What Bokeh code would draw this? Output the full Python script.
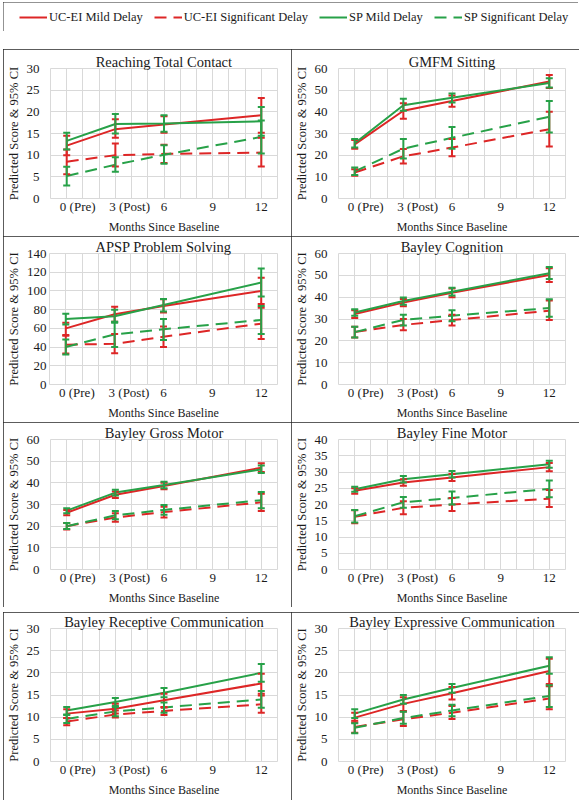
from bokeh.plotting import figure
from bokeh.models import (ColumnDataSource, Whisker, TeeHead, FixedTicker, Range1d,
                          Legend, LegendItem, Spacer)
from bokeh.layouts import column, row
from bokeh.embed import file_html
from bokeh.resources import INLINE

# ---------------- data ----------------
months = [0, 3, 6, 12]
x_tick_labels = ["0 (Pre)", "3 (Post)", "6", "9", "12"]
series_keys = ["uc_mild", "uc_sig", "sp_mild", "sp_sig"]
series_names = ["UC-EI Mild Delay", "UC-EI Significant Delay", "SP Mild Delay", "SP Significant Delay"]

reach_mean = dict(uc_mild=[12.2, 16.0, 17.1, 19.2], uc_sig=[8.5, 10.0, 10.3, 10.6],
                  sp_mild=[13.3, 17.2, 17.3, 17.8], sp_sig=[5.2, 7.8, 10.1, 14.2])
reach_low = dict(uc_mild=[10.0, 14.0, 15.2, 15.2], uc_sig=[5.6, 7.4, 8.2, 7.4],
                 sp_mild=[11.3, 15.0, 15.4, 14.5], sp_sig=[3.0, 6.2, 8.0, 10.4])
reach_high = dict(uc_mild=[14.5, 18.3, 19.0, 23.2], uc_sig=[11.3, 12.7, 12.4, 14.0],
                  sp_mild=[15.2, 19.5, 19.2, 21.1], sp_sig=[7.3, 9.5, 12.3, 18.0])

gmfm_mean = dict(uc_mild=[25.0, 40.5, 45.0, 54.0], uc_sig=[12.0, 19.5, 23.5, 32.0],
                 sp_mild=[25.5, 43.0, 46.5, 53.3], sp_sig=[12.5, 23.0, 28.0, 37.7])
gmfm_low = dict(uc_mild=[23.0, 36.8, 42.3, 51.0], uc_sig=[10.5, 16.2, 19.5, 24.0],
                sp_mild=[23.5, 40.5, 44.3, 51.2], sp_sig=[10.8, 18.5, 23.0, 30.5])
gmfm_high = dict(uc_mild=[27.0, 44.0, 47.5, 57.0], uc_sig=[13.5, 22.8, 27.5, 40.0],
                 sp_mild=[27.5, 46.0, 48.5, 55.5], sp_sig=[14.3, 27.5, 33.0, 45.0])

apsp_mean = dict(uc_mild=[60, 75, 84, 100], uc_sig=[42.5, 43.5, 51, 65],
                 sp_mild=[70, 73, 85, 109], sp_sig=[40, 53.5, 59, 69])
apsp_low = dict(uc_mild=[53, 67, 77, 86], uc_sig=[33, 33.5, 40, 48.5],
                sp_mild=[64, 66, 78, 94], sp_sig=[32, 40, 47.5, 54])
apsp_high = dict(uc_mild=[66, 83, 91, 114], uc_sig=[52, 54, 62, 82],
                 sp_mild=[75.5, 80, 91.5, 124], sp_sig=[48, 67, 70, 84])

cog_mean = dict(uc_mild=[32.3, 37.5, 42.0, 50.2], uc_sig=[24.0, 27.3, 29.5, 33.8],
                sp_mild=[33.0, 38.2, 42.5, 51.0], sp_sig=[24.0, 29.6, 31.5, 35.0])
cog_low = dict(uc_mild=[30.5, 35.8, 40.0, 47.0], uc_sig=[21.5, 24.8, 27.0, 29.5],
               sp_mild=[31.5, 36.5, 40.8, 48.3], sp_sig=[21.5, 27.0, 29.0, 31.0])
cog_high = dict(uc_mild=[34.0, 39.2, 44.0, 53.3], uc_sig=[26.5, 30.0, 32.0, 38.5],
                sp_mild=[34.5, 39.8, 44.3, 53.8], sp_sig=[26.5, 32.0, 34.0, 39.0])

gross_mean = dict(uc_mild=[26.2, 34.5, 38.5, 47.0], uc_sig=[20.0, 24.0, 26.5, 31.0],
                  sp_mild=[27.2, 35.5, 39.0, 46.2], sp_sig=[20.0, 25.0, 27.5, 32.0])
gross_low = dict(uc_mild=[25.0, 33.0, 37.0, 45.0], uc_sig=[18.5, 22.0, 24.0, 27.0],
                 sp_mild=[26.0, 34.2, 37.5, 44.5], sp_sig=[18.7, 23.2, 25.3, 28.3])
gross_high = dict(uc_mild=[27.5, 36.0, 40.0, 49.0], uc_sig=[21.5, 26.0, 29.0, 35.0],
                  sp_mild=[28.3, 36.8, 40.5, 48.0], sp_sig=[21.5, 27.0, 29.8, 35.8])

fine_mean = dict(uc_mild=[24.2, 26.8, 28.3, 31.5], uc_sig=[16.2, 19.0, 20.0, 21.8],
                 sp_mild=[24.7, 27.8, 29.3, 32.4], sp_sig=[16.4, 20.7, 22.0, 24.8])
fine_low = dict(uc_mild=[23.3, 25.8, 27.2, 30.2], uc_sig=[14.2, 17.0, 18.0, 19.2],
                sp_mild=[23.9, 26.8, 28.3, 31.3], sp_sig=[14.5, 19.0, 20.0, 22.2])
fine_high = dict(uc_mild=[25.0, 27.8, 29.4, 32.8], uc_sig=[18.2, 21.0, 22.0, 24.5],
                 sp_mild=[25.5, 28.8, 30.3, 33.5], sp_sig=[18.3, 22.3, 24.0, 27.4])

rec_mean = dict(uc_mild=[10.8, 11.9, 13.8, 17.6], uc_sig=[9.0, 10.6, 11.4, 12.9],
                sp_mild=[11.5, 13.4, 15.5, 20.0], sp_sig=[9.6, 11.3, 12.2, 14.0])
rec_low = dict(uc_mild=[9.8, 10.8, 12.2, 15.3], uc_sig=[8.2, 9.9, 10.5, 11.0],
               sp_mild=[10.6, 12.5, 14.5, 18.0], sp_sig=[8.7, 10.2, 11.0, 12.1])
rec_high = dict(uc_mild=[11.8, 13.0, 15.3, 19.8], uc_sig=[9.8, 11.5, 12.3, 14.9],
                sp_mild=[12.3, 14.3, 16.6, 22.0], sp_sig=[10.5, 12.3, 13.3, 15.9])

exp_mean = dict(uc_mild=[9.9, 13.0, 15.4, 20.4], uc_sig=[7.8, 9.5, 11.0, 14.2],
                sp_mild=[10.8, 14.0, 16.6, 21.6], sp_sig=[7.6, 9.8, 11.5, 14.8])
exp_low = dict(uc_mild=[8.8, 11.4, 14.0, 17.5], uc_sig=[6.5, 8.0, 9.6, 11.8],
               sp_mild=[9.8, 13.0, 15.5, 19.8], sp_sig=[6.4, 8.5, 10.2, 12.3])
exp_high = dict(uc_mild=[11.0, 14.5, 16.8, 23.2], uc_sig=[9.2, 11.3, 12.5, 17.0],
                sp_mild=[11.8, 15.0, 17.5, 23.5], sp_sig=[8.6, 11.2, 12.8, 17.2])

# ---------------- style ----------------
RED = "#dd2626"
GREEN = "#27a148"
COLORS = dict(uc_mild=RED, uc_sig=RED, sp_mild=GREEN, sp_sig=GREEN)
DASHES = dict(uc_mild="solid", uc_sig="12 7", sp_mild="solid", sp_sig="12 7")
FONT = "'Liberation Serif', serif"
TXT = "#1a1a1a"
BOX = {"outline": "1px solid #262626", "outline-offset": "-1px"}
x_tick_pos = [0.68, 3.88, 6, 9, 12]


def make_panel(title, ymax, ystep, mean, low, high, height, top, bottom, lab_standoff=11, t_off=-6):
    p = figure(width=288, height=height, x_range=Range1d(-1, 13), y_range=Range1d(0, ymax),
               output_backend="svg", toolbar_location=None,
               min_border_left=43, min_border_right=14, min_border_top=top, min_border_bottom=bottom)
    p.styles = BOX
    p.title.text = title
    p.title.align = "center"
    p.title.offset = t_off
    p.title.text_font = FONT
    p.title.text_font_size = "14.5px"
    p.title.text_font_style = "normal"
    p.title.text_color = TXT
    p.title.standoff = -3
    p.outline_line_color = "#d9d9d9"
    yt = list(range(0, ymax + 1, ystep))
    p.yaxis.ticker = FixedTicker(ticks=yt)
    p.ygrid.ticker = FixedTicker(ticks=yt)
    p.xaxis.ticker = FixedTicker(ticks=x_tick_pos)
    p.xaxis.major_label_overrides = {pos: lab for pos, lab in zip(x_tick_pos, x_tick_labels)}
    p.xgrid.ticker = FixedTicker(ticks=list(range(-1, 14)))
    for g in (p.xgrid, p.ygrid):
        g.grid_line_color = "#d9d9d9"
        g.grid_line_width = 1
    for ax in (p.xaxis, p.yaxis):
        ax.axis_line_color = None
        ax.major_tick_line_color = None
        ax.minor_tick_line_color = None
        ax.major_tick_out = 0
        ax.major_tick_in = 0
        ax.major_label_text_font = FONT
        ax.major_label_text_font_size = "13px"
        ax.major_label_text_font_style = "normal"
        ax.major_label_text_color = TXT
        ax.axis_label_text_font = FONT
        ax.axis_label_text_font_style = "normal"
        ax.axis_label_text_color = TXT
    p.xaxis.axis_label = "Months Since Baseline"
    p.xaxis.axis_label_text_font_size = "12px"
    p.xaxis.major_label_standoff = 0
    p.xaxis.axis_label_standoff = 3
    p.yaxis.axis_label = "Predicted Score & 95% CI"
    p.yaxis.axis_label_text_font_size = "12.5px"
    p.yaxis.major_label_standoff = lab_standoff
    p.yaxis.axis_label_standoff = 3
    for k in series_keys:
        c = COLORS[k]
        src = ColumnDataSource(dict(x=months, y=mean[k], lower=low[k], upper=high[k]))
        p.line("x", "y", source=src, line_color=c, line_width=2, line_dash=DASHES[k])
        w = Whisker(source=src, base="x", lower="lower", upper="upper", line_color=c, line_width=2,
                    upper_head=TeeHead(size=7, line_color=c, line_width=2),
                    lower_head=TeeHead(size=7, line_color=c, line_width=2), level="glyph")
        p.add_layout(w)
    return p


# legend strip (proxy renderers hold no visible points)
nan = float("nan")
leg = figure(width=575, height=29, x_range=Range1d(0, 1), y_range=Range1d(0, 1),
             output_backend="svg", toolbar_location=None, min_border=0,
             x_axis_type=None, y_axis_type=None)
leg.styles = BOX
leg.outline_line_color = None
items = []
for k, name in zip(series_keys, series_names):
    r = leg.line(x=[0.5, 0.5], y=[nan, nan], line_color=COLORS[k], line_width=2, line_dash=DASHES[k])
    items.append(LegendItem(label=name, renderers=[r]))
legend = Legend(items=items, orientation="horizontal", location=(16, 4), margin=0, padding=0,
                spacing=11, glyph_width=28, glyph_height=20, label_standoff=2, label_height=20,
                label_text_font=FONT, label_text_font_size="12.5px", label_text_color=TXT,
                border_line_color=None, background_fill_alpha=0)
leg.add_layout(legend, "center")

p1 = make_panel("Reaching Total Contact", 30, 5, reach_mean, reach_low, reach_high, 187, 19, 38)
p2 = make_panel("GMFM Sitting", 60, 10, gmfm_mean, gmfm_low, gmfm_high, 187, 19, 38, t_off=-3)
p3 = make_panel("APSP Problem Solving", 140, 20, apsp_mean, apsp_low, apsp_high, 186, 17, 38, lab_standoff=3)
p4 = make_panel("Bayley Cognition", 60, 10, cog_mean, cog_low, cog_high, 186, 17, 38, t_off=-1)
p5 = make_panel("Bayley Gross Motor", 60, 10, gross_mean, gross_low, gross_high, 185, 17, 37, t_off=-8)
p6 = make_panel("Bayley Fine Motor", 40, 5, fine_mean, fine_low, fine_high, 185, 17, 37, t_off=-6)
p7 = make_panel("Bayley Receptive Communication", 30, 5, rec_mean, rec_low, rec_high, 188, 16, 39, t_off=-2)
p8 = make_panel("Bayley Expressive Communication", 30, 5, exp_mean, exp_low, exp_high, 188, 16, 39, t_off=0)

layout = column(leg, Spacer(height=18, width=10), row(p1, p2), row(p3, p4), row(p5, p6),
                Spacer(height=5, width=10), row(p7, p8))
layout.styles = {"margin": "2px 0px 0px 3px"}

open("out.html", "w").write(file_html(layout, INLINE))
